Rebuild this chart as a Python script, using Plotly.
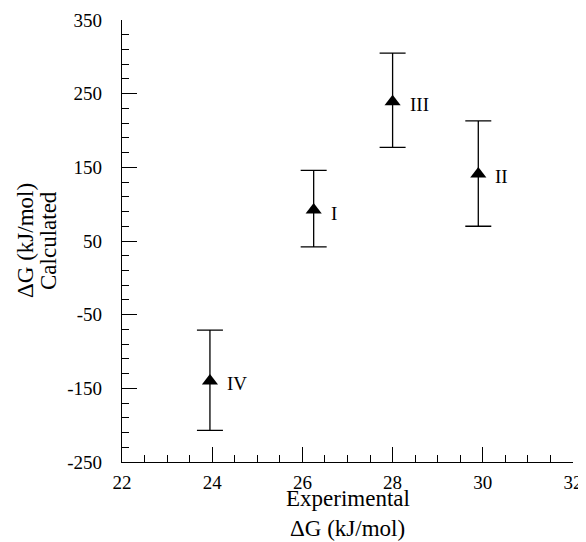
import plotly.graph_objects as go

# Data
labels = ["I", "II", "III", "IV"]
exp_dg = [26.25, 29.9, 28.0, 23.95]
calc_dg = [92, 141, 239, -140]
err_plus = [54, 72, 66, 69]
err_minus = [50, 71, 62, 67]

x_ticks = [22, 24, 26, 28, 30, 32]
y_ticks = [-250, -150, -50, 50, 150, 250, 350]

FONT = "Liberation Serif, Times New Roman, serif"

fig = go.Figure()
fig.add_trace(go.Scatter(
    x=exp_dg, y=calc_dg, mode="markers",
    marker=dict(symbol="triangle-up", size=14, color="black"),
    error_y=dict(type="data", symmetric=False, array=err_plus, arrayminus=err_minus,
                 color="black", thickness=1.3, width=13),
    showlegend=False, hoverinfo="skip", cliponaxis=False,
))

for lab, xv, yv in zip(labels, exp_dg, calc_dg):
    fig.add_annotation(x=xv, y=yv, text=lab, showarrow=False, xanchor="left",
                       xshift=15, yshift=-3,
                       font=dict(family=FONT, size=19, color="black"))

axis_common = dict(
    showgrid=False, zeroline=False, showline=True, linecolor="black", linewidth=1.3,
    ticks="inside", ticklen=15, tickwidth=1.3, tickcolor="black",
    tickfont=dict(family=FONT, size=19, color="black"), automargin=False,
)

fig.update_xaxes(range=[22, 32], tickmode="array", tickvals=x_ticks,
                 ticktext=[str(v) for v in x_ticks], ticklabelstandoff=3,
                 minor=dict(ticks="inside", dtick=0.5, tick0=22, ticklen=7,
                            tickwidth=1.3, tickcolor="black", showgrid=False),
                 **axis_common)
fig.update_yaxes(range=[-250, 350], tickmode="array", tickvals=y_ticks,
                 ticktext=[str(v) for v in y_ticks], ticklabelstandoff=15,
                 minor=dict(ticks="inside", dtick=20, tick0=-250, ticklen=7,
                            tickwidth=1.3, tickcolor="black", showgrid=False),
                 **axis_common)

title_font = dict(family=FONT, size=23, color="black")
# x title (two lines)
fig.add_annotation(xref="paper", yref="paper", x=0.5, y=0, yshift=-36,
                   text="Experimental", showarrow=False, font=title_font,
                   xanchor="center", yanchor="middle")
fig.add_annotation(xref="paper", yref="paper", x=0.5, y=0, yshift=-66,
                   text="ΔG (kJ/mol)", showarrow=False, font=title_font,
                   xanchor="center", yanchor="middle")
# y title (two lines, rotated)
fig.add_annotation(xref="paper", yref="paper", x=0, y=0.5, xshift=-97,
                   text="ΔG (kJ/mol)", showarrow=False, font=title_font,
                   textangle=-90, xanchor="center", yanchor="middle")
fig.add_annotation(xref="paper", yref="paper", x=0, y=0.5, xshift=-74,
                   text="Calculated", showarrow=False, font=title_font,
                   textangle=-90, xanchor="center", yanchor="middle")

# the page body adds an 8px offset; margins compensate so the plot area
# lands at x 122..573, y 20..462 in the window
fig.update_layout(
    width=586, height=542,
    margin=dict(l=114, r=21, t=12, b=88, autoexpand=False),
    paper_bgcolor="white", plot_bgcolor="white",
    font=dict(family=FONT, color="black"),
)

fig.write_html("out.html")
